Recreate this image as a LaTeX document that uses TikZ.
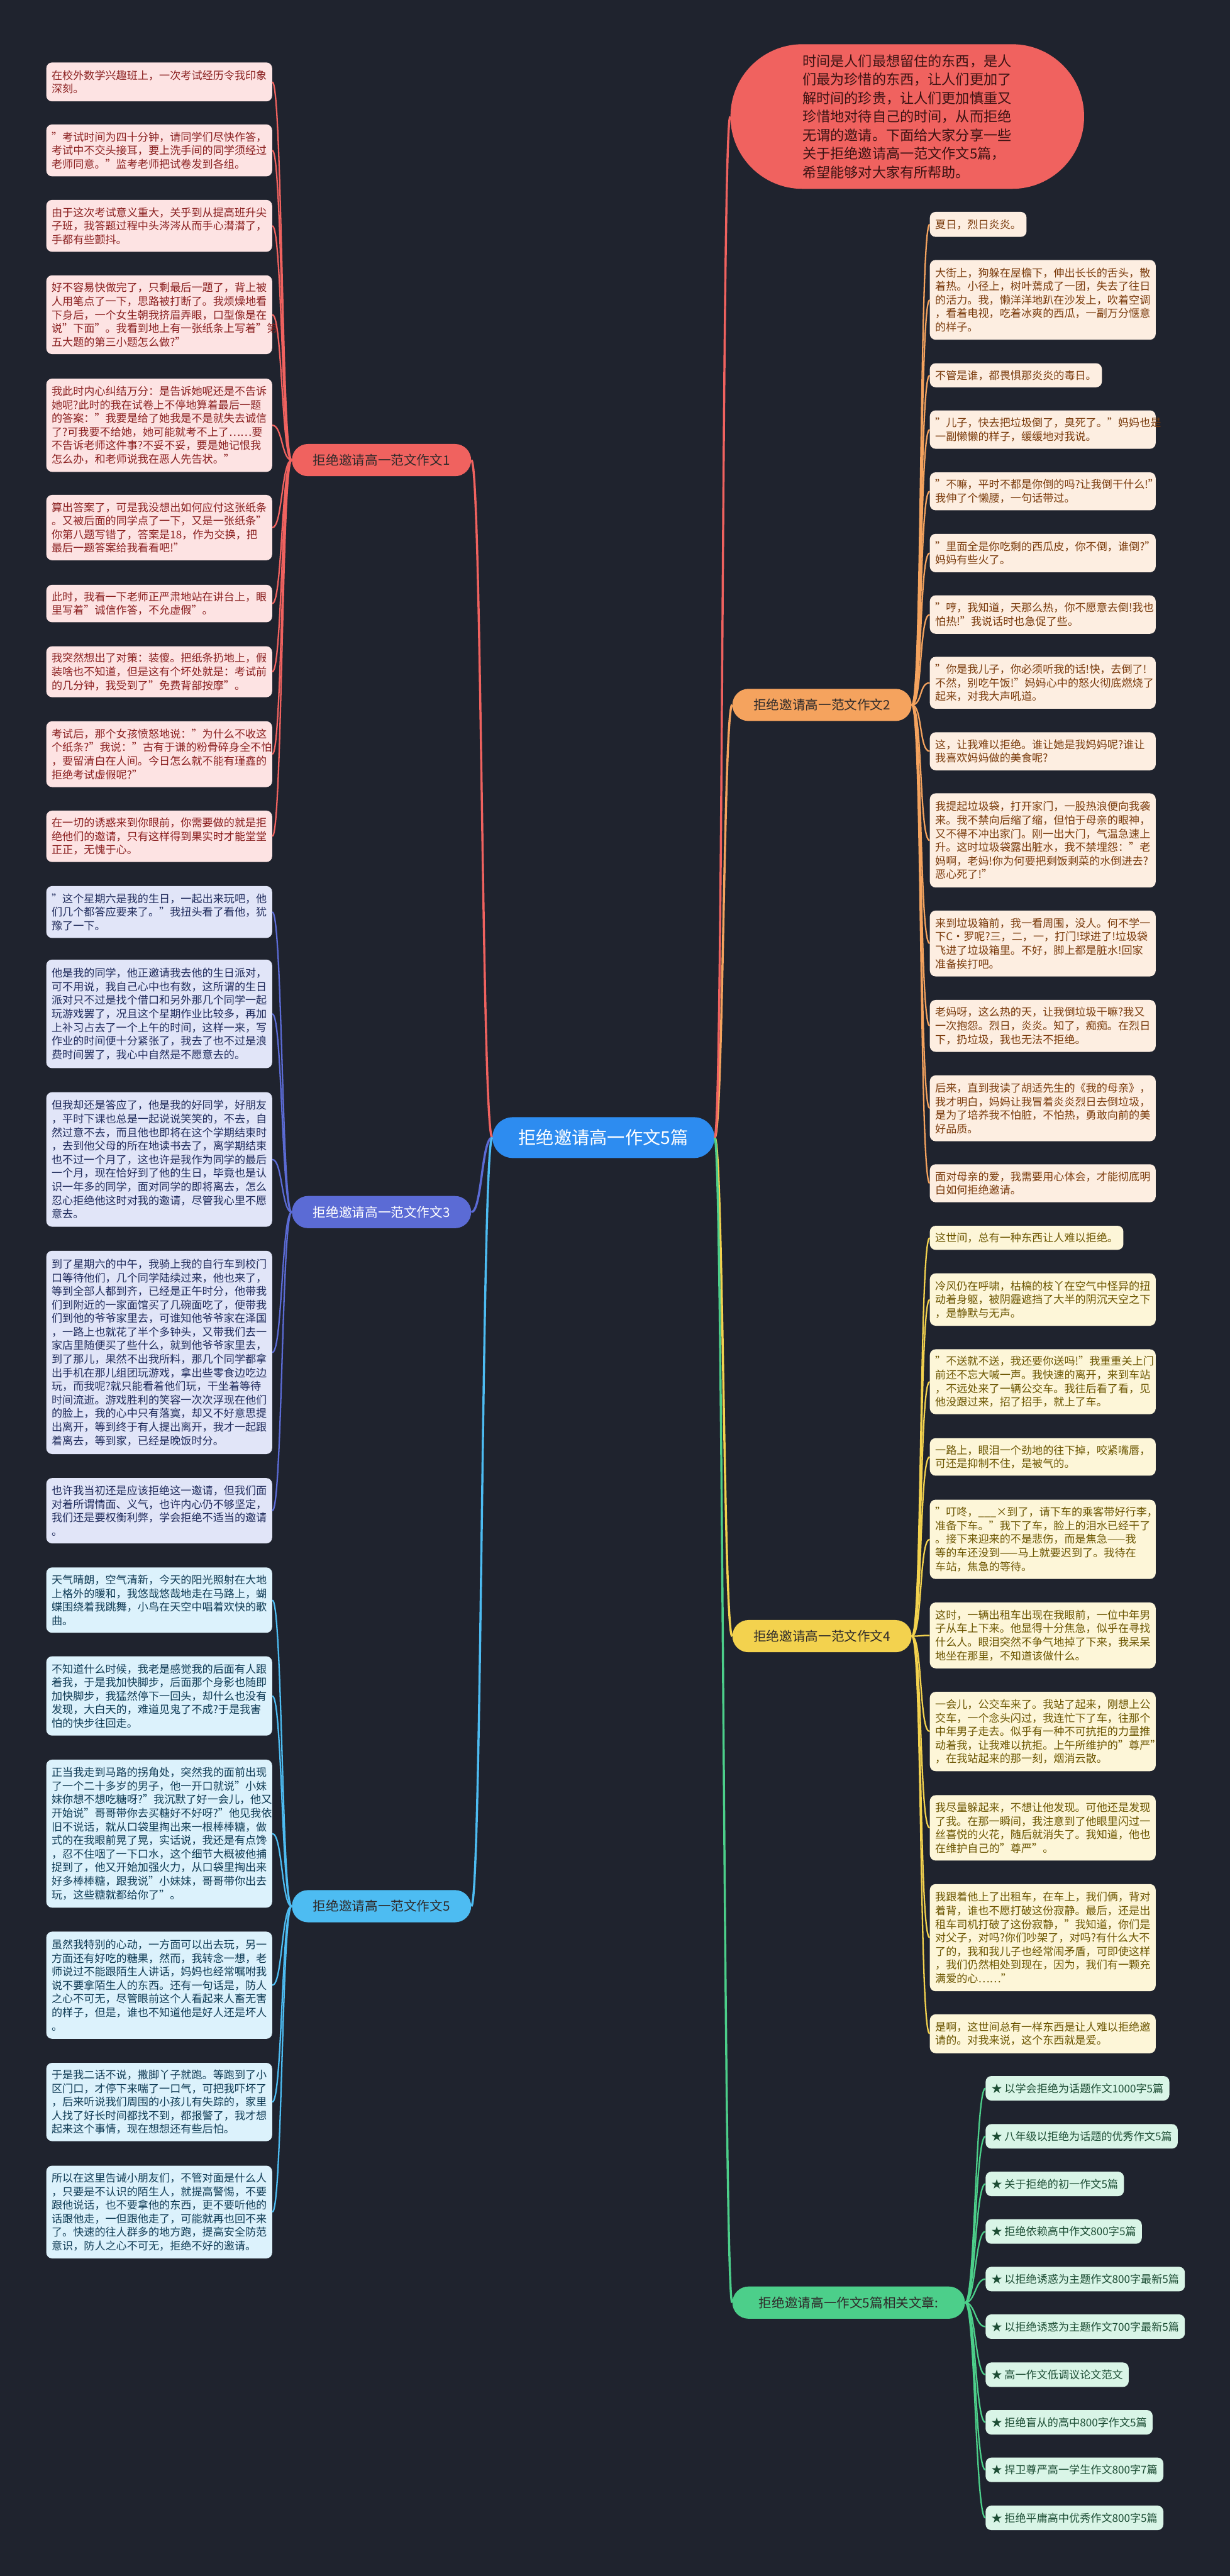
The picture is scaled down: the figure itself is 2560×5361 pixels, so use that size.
\documentclass[tikz,border=0pt]{standalone}
\usepackage{fontspec}
\setmainfont{Noto Sans CJK SC}
\definecolor{bgc}{HTML}{1F232E}
\definecolor{cRed}{HTML}{F0625F}
\definecolor{cRedFill}{HTML}{FDE3E3}
\definecolor{cRedText}{HTML}{8A1F1F}
\definecolor{cPur}{HTML}{5B6BD5}
\definecolor{cPurFill}{HTML}{E1E5F8}
\definecolor{cPurText}{HTML}{1F2B5C}
\definecolor{cCyan}{HTML}{4DBCF2}
\definecolor{cCyanFill}{HTML}{DCF2FC}
\definecolor{cCyanText}{HTML}{0F3B55}
\definecolor{cOra}{HTML}{F5A35E}
\definecolor{cOraFill}{HTML}{FDEEE1}
\definecolor{cOraText}{HTML}{7A3B0C}
\definecolor{cYel}{HTML}{F3D24E}
\definecolor{cYelFill}{HTML}{FDF6D8}
\definecolor{cYelText}{HTML}{6B5500}
\definecolor{cGrn}{HTML}{4CCF8A}
\definecolor{cGrnFill}{HTML}{D9F5E7}
\definecolor{cGrnText}{HTML}{1C4D34}
\definecolor{cCenter}{HTML}{2D8CF0}
\definecolor{bubText}{HTML}{3B1212}
\definecolor{brDark}{HTML}{2E2A2A}
\newcommand\mybox[6]{\node[#2,minimum height={(#5-#4)*0.5pt}] (#1) at (#3,{(#4+#5)/2}) {#6};}
\begin{document}
\begin{tikzpicture}[x=0.5pt,y=-0.5pt,
  box/.style={anchor=west,rounded corners=6pt,inner xsep=5.5pt,inner ysep=0pt,text width=224pt,align=left,font=\fontsize{11.2pt}{14.125pt}\selectfont},
  rb/.style={box,fill=cRedFill,text=cRedText},
  pb/.style={box,fill=cPurFill,text=cPurText},
  cb/.style={box,fill=cCyanFill,text=cCyanText},
  ob/.style={box,fill=cOraFill,text=cOraText},
  yb/.style={box,fill=cYelFill,text=cYelText},
  gb/.style={anchor=west,rounded corners=6pt,inner xsep=6pt,inner ysep=0pt,minimum height=25.5pt,fill=cGrnFill,text=cGrnText,font=\fontsize{11.2pt}{14pt}\selectfont},
  br/.style={rounded corners=16.75pt,minimum width=186.5pt,minimum height=33.5pt,inner sep=0pt,font=\fontsize{13.5pt}{16pt}\selectfont},
  lk/.style={line width=1.5pt},
  lm/.style={line width=2.25pt}]
\useasboundingbox (0,0) rectangle (2560,5361);
\fill[bgc] (0,0) rectangle (2560,5361);

% center and intro bubble
\node[fill=cCenter,text=white,rounded corners=21.25pt,minimum width=231pt,minimum height=42.5pt,inner sep=0pt,font=\fontsize{18.5pt}{22pt}\selectfont] (c) at (1256,2367.5) {拒绝邀请高一作文5篇};
\node[fill=cRed,text=bubText,anchor=west,rounded corners=75pt,minimum height=150.5pt,text width=218pt,align=left,inner xsep=75pt,inner ysep=0pt,font=\fontsize{14.5pt}{19.3pt}\selectfont] (bub) at (1520,242.5) {时间是人们最想留住的东西，是人\\们最为珍惜的东西，让人们更加了\\解时间的珍贵，让人们更加慎重又\\珍惜地对待自己的时间，从而拒绝\\无谓的邀请。下面给大家分享一些\\关于拒绝邀请高一范文作文5篇，\\希望能够对大家有所帮助。};

% branch nodes
\node[br,fill=cRed,text=brDark,anchor=east] (b1) at (981,957.5) {拒绝邀请高一范文作文1};
\node[br,fill=cPur,text=white,anchor=east] (b3) at (981,2522.5) {拒绝邀请高一范文作文3};
\node[br,fill=cCyan,text=brDark,anchor=east] (b5) at (981,3967) {拒绝邀请高一范文作文5};
\node[br,fill=cOra,text=brDark,anchor=west] (b2) at (1524,1467) {拒绝邀请高一范文作文2};
\node[br,fill=cYel,text=brDark,anchor=west] (b4) at (1524,3405) {拒绝邀请高一范文作文4};
\node[br,fill=cGrn,text=brDark,anchor=west,minimum width=242pt] (bg) at (1524,4792) {拒绝邀请高一作文5篇相关文章:};

% branch 1
\mybox{a1}{rb}{96}{130}{211}{在校外数学兴趣班上，一次考试经历令我印象\\深刻。}
\mybox{a2}{rb}{96}{259}{367}{"考试时间为四十分钟，请同学们尽快作答，\\考试中不交头接耳，要上洗手间的同学须经过\\老师同意。"监考老师把试卷发到各组。}
\mybox{a3}{rb}{96}{416}{524}{由于这次考试意义重大，关乎到从提高班升尖\\子班，我答题过程中头涔涔从而手心潸潸了，\\手都有些颤抖。}
\mybox{a4}{rb}{96}{573}{737}{好不容易快做完了，只剩最后一题了，背上被\\人用笔点了一下，思路被打断了。我烦燥地看\\下身后，一个女生朝我挤眉弄眼，口型像是在\\说"下面"。我看到地上有一张纸条上写着"第\\五大题的第三小题怎么做?"}
\mybox{a5}{rb}{96}{788}{982}{我此时内心纠结万分：是告诉她呢还是不告诉\\她呢?此时的我在试卷上不停地算着最后一题\\的答案："我要是给了她我是不是就失去诚信\\了?可我要不给她，她可能就考不上了……要\\不告诉老师这件事?不妥不妥，要是她记恨我\\怎么办，和老师说我在恶人先告状。"}
\mybox{a6}{rb}{96}{1030}{1166}{算出答案了，可是我没想出如何应付这张纸条\\。又被后面的同学点了一下，又是一张纸条"\\你第八题写错了，答案是18，作为交换，把\\最后一题答案给我看看吧!"}
\mybox{a7}{rb}{96}{1217}{1295}{此时，我看一下老师正严肃地站在讲台上，眼\\里写着"诚信作答，不允虚假"。}
\mybox{a8}{rb}{96}{1345}{1451}{我突然想出了对策：装傻。把纸条扔地上，假\\装啥也不知道，但是这有个坏处就是：考试前\\的几分钟，我受到了"免费背部按摩"。}
\mybox{a9}{rb}{96}{1501}{1638}{考试后，那个女孩愤怒地说："为什么不收这\\个纸条?"我说："古有于谦的粉骨碎身全不怕\\，要留清白在人间。今日怎么就不能有瑾鑫的\\拒绝考试虚假呢?"}
\mybox{a10}{rb}{96}{1687}{1794}{在一切的诱惑来到你眼前，你需要做的就是拒\\绝他们的邀请，只有这样得到果实时才能堂堂\\正正，无愧于心。}

% branch 3
\mybox{d1}{pb}{96}{1844}{1952}{"这个星期六是我的生日，一起出来玩吧，他\\们几个都答应要来了。"我扭头看了看他，犹\\豫了一下。}
\mybox{d2}{pb}{96}{1997}{2223}{他是我的同学，他正邀请我去他的生日派对，\\可不用说，我自己心中也有数，这所谓的生日\\派对只不过是找个借口和另外那几个同学一起\\玩游戏罢了，况且这个星期作业比较多，再加\\上补习占去了一个上午的时间，这样一来，写\\作业的时间便十分紧张了，我去了也不过是浪\\费时间罢了，我心中自然是不愿意去的。}
\mybox{d3}{pb}{96}{2273}{2553}{但我却还是答应了，他是我的好同学，好朋友\\，平时下课也总是一起说说笑笑的，不去，自\\然过意不去，而且他也即将在这个学期结束时\\，去到他父母的所在地读书去了，离学期结束\\也不过一个月了，这也许是我作为同学的最后\\一个月，现在恰好到了他的生日，毕竟也是认\\识一年多的同学，面对同学的即将离去，怎么\\忍心拒绝他这时对我的邀请，尽管我心里不愿\\意去。}
\mybox{d4}{pb}{96}{2603}{3026}{到了星期六的中午，我骑上我的自行车到校门\\口等待他们，几个同学陆续过来，他也来了，\\等到全部人都到齐，已经是正午时分，他带我\\们到附近的一家面馆买了几碗面吃了，便带我\\们到他的爷爷家里去，可谁知他爷爷家在泽国\\，一路上也就花了半个多钟头，又带我们去一\\家店里随便买了些什么，就到他爷爷家里去，\\到了那儿，果然不出我所料，那几个同学都拿\\出手机在那儿组团玩游戏，拿出些零食边吃边\\玩，而我呢?就只能看着他们玩，干坐着等待\\时间流逝。游戏胜利的笑容一次次浮现在他们\\的脸上，我的心中只有落寞，却又不好意思提\\出离开，等到终于有人提出离开，我才一起跟\\着离去，等到家，已经是晚饭时分。}
\mybox{d5}{pb}{96}{3076}{3212}{也许我当初还是应该拒绝这一邀请，但我们面\\对着所谓情面、义气，也许内心仍不够坚定，\\我们还是要权衡利弊，学会拒绝不适当的邀请\\。}

% branch 5
\mybox{e1}{cb}{96}{3262}{3398}{天气晴朗，空气清新，今天的阳光照射在大地\\上格外的暖和，我悠哉悠哉地走在马路上，蝴\\蝶围绕着我跳舞，小鸟在天空中唱着欢快的歌\\曲。}
\mybox{e2}{cb}{96}{3447}{3612}{不知道什么时候，我老是感觉我的后面有人跟\\着我，于是我加快脚步，后面那个身影也随即\\加快脚步，我猛然停下一回头，却什么也没有\\发现，大白天的，难道见鬼了不成?于是我害\\怕的快步往回走。}
\mybox{e3}{cb}{96}{3662}{3970}{正当我走到马路的拐角处，突然我的面前出现\\了一个二十多岁的男子，他一开口就说"小妹\\妹你想不想吃糖呀?"我沉默了好一会儿，他又\\开始说"哥哥带你去买糖好不好呀?"他见我依\\旧不说话，就从口袋里掏出来一根棒棒糖，做\\式的在我眼前晃了晃，实话说，我还是有点馋\\，忍不住咽了一下口水，这个细节大概被他捕\\捉到了，他又开始加强火力，从口袋里掏出来\\好多棒棒糖，跟我说"小妹妹，哥哥带你出去\\玩，这些糖就都给你了"。}
\mybox{e4}{cb}{96}{4020}{4243}{虽然我特别的心动，一方面可以出去玩，另一\\方面还有好吃的糖果，然而，我转念一想，老\\师说过不能跟陌生人讲话，妈妈也经常嘱咐我\\说不要拿陌生人的东西。还有一句话是，防人\\之心不可无，尽管眼前这个人看起来人畜无害\\的样子，但是，谁也不知道他是好人还是坏人\\。}
\mybox{e5}{cb}{96}{4293}{4456}{于是我二话不说，撒脚丫子就跑。等跑到了小\\区门口，才停下来喘了一口气，可把我吓坏了\\，后来听说我们周围的小孩儿有失踪的，家里\\人找了好长时间都找不到，都报警了，我才想\\起来这个事情，现在想想还有些后怕。}
\mybox{e6}{cb}{96}{4507}{4700}{所以在这里告诫小朋友们，不管对面是什么人\\，只要是不认识的陌生人，就提高警惕，不要\\跟他说话，也不要拿他的东西，更不要听他的\\话跟他走，一但跟他走了，可能就再也回不来\\了。快速的往人群多的地方跑，提高安全防范\\意识，防人之心不可无，拒绝不好的邀请。}

% branch 2
\mybox{f1}{ob,text width={}}{1935}{441}{493}{夏日，烈日炎炎。}
\mybox{f2}{ob}{1935}{541}{707}{大街上，狗躲在屋檐下，伸出长长的舌头，散\\着热。小径上，树叶蔫成了一团，失去了往日\\的活力。我，懒洋洋地趴在沙发上，吹着空调\\，看着电视，吃着冰爽的西瓜，一副万分惬意\\的样子。}
\mybox{f3}{ob,text width={}}{1935}{756}{806}{不管是谁，都畏惧那炎炎的毒日。}
\mybox{f4}{ob}{1935}{854}{934}{"儿子，快去把垃圾倒了，臭死了。"妈妈也是\\一副懒懒的样子，缓缓地对我说。}
\mybox{f5}{ob}{1935}{983}{1062}{"不嘛，平时不都是你倒的吗?让我倒干什么!"\\我伸了个懒腰，一句话带过。}
\mybox{f6}{ob}{1935}{1111}{1191}{"里面全是你吃剩的西瓜皮，你不倒，谁倒?"\\妈妈有些火了。}
\mybox{f7}{ob}{1935}{1239}{1319}{"哼，我知道，天那么热，你不愿意去倒!我也\\怕热!"我说话时也急促了些。}
\mybox{f8}{ob}{1935}{1367}{1475}{"你是我儿子，你必须听我的话!快，去倒了!\\不然，别吃午饭!"妈妈心中的怒火彻底燃烧了\\起来，对我大声吼道。}
\mybox{f9}{ob}{1935}{1524}{1603}{这，让我难以拒绝。谁让她是我妈妈呢?谁让\\我喜欢妈妈做的美食呢?}
\mybox{f10}{ob}{1935}{1651}{1847}{我提起垃圾袋，打开家门，一股热浪便向我袭\\来。我不禁向后缩了缩，但怕于母亲的眼神，\\又不得不冲出家门。刚一出大门，气温急速上\\升。这时垃圾袋露出脏水，我不禁埋怨："老\\妈啊，老妈!你为何要把剩饭剩菜的水倒进去?\\恶心死了!"}
\mybox{f11}{ob}{1935}{1895}{2032}{来到垃圾箱前，我一看周围，没人。何不学一\\下C·罗呢?三，二，一，打门!球进了!垃圾袋\\飞进了垃圾箱里。不好，脚上都是脏水!回家\\准备挨打吧。}
\mybox{f12}{ob}{1935}{2081}{2189}{老妈呀，这么热的天，让我倒垃圾干嘛?我又\\一次抱怨。烈日，炎炎。知了，痴痴。在烈日\\下，扔垃圾，我也无法不拒绝。}
\mybox{f13}{ob}{1935}{2238}{2375}{后来，直到我读了胡适先生的《我的母亲》，\\我才明白，妈妈让我冒着炎炎烈日去倒垃圾，\\是为了培养我不怕脏，不怕热，勇敢向前的美\\好品质。}
\mybox{f14}{ob}{1935}{2423}{2502}{面对母亲的爱，我需要用心体会，才能彻底明\\白如何拒绝邀请。}

% branch 4
\mybox{g1}{yb,text width={}}{1935}{2551}{2601}{这世间，总有一种东西让人难以拒绝。}
\mybox{g2}{yb}{1935}{2650}{2759}{冷风仍在呼啸，枯槁的枝丫在空气中怪异的扭\\动着身躯，被阴霾遮挡了大半的阴沉天空之下\\，是静默与无声。}
\mybox{g3}{yb}{1935}{2808}{2943}{"不送就不送，我还要你送吗!"我重重关上门\\前还不忘大喊一声。我快速的离开，来到车站\\，不远处来了一辆公交车。我往后看了看，见\\他没跟过来，招了招手，就上了车。}
\mybox{g4}{yb}{1935}{2993}{3071}{一路上，眼泪一个劲地的往下掉，咬紧嘴唇，\\可还是抑制不住，是被气的。}
\mybox{g5}{yb}{1935}{3121}{3286}{"叮咚，\_\_\_×到了，请下车的乘客带好行李，\\准备下车。"我下了车，脸上的泪水已经干了\\。接下来迎来的不是悲伤，而是焦急——我\\等的车还没到——马上就要迟到了。我待在\\车站，焦急的等待。}
\mybox{g6}{yb}{1935}{3335}{3472}{这时，一辆出租车出现在我眼前，一位中年男\\子从车上下来。他显得十分焦急，似乎在寻找\\什么人。眼泪突然不争气地掉了下来，我呆呆\\地坐在那里，不知道该做什么。}
\mybox{g7}{yb}{1935}{3521}{3686}{一会儿，公交车来了。我站了起来，刚想上公\\交车，一个念头闪过，我连忙下了车，往那个\\中年男子走去。似乎有一种不可抗拒的力量推\\动着我，让我难以抗拒。上午所维护的"尊严"\\，在我站起来的那一刻，烟消云散。}
\mybox{g8}{yb}{1935}{3736}{3872}{我尽量躲起来，不想让他发现。可他还是发现\\了我。在那一瞬间，我注意到了他眼里闪过一\\丝喜悦的火花，随后就消失了。我知道，他也\\在维护自己的"尊严"。}
\mybox{g9}{yb}{1935}{3921}{4144}{我跟着他上了出租车，在车上，我们俩，背对\\着背，谁也不愿打破这份寂静。最后，还是出\\租车司机打破了这份寂静，"我知道，你们是\\对父子，对吗?你们吵架了，对吗?有什么大不\\了的，我和我儿子也经常闹矛盾，可即使这样\\，我们仍然相处到现在，因为，我们有一颗充\\满爱的心……"}
\mybox{g10}{yb}{1935}{4192}{4273}{是啊，这世间总有一样东西是让人难以拒绝邀\\请的。对我来说，这个东西就是爱。}

% related articles
\node[gb] (h1) at (2051,4346) {★ 以学会拒绝为话题作文1000字5篇};
\node[gb] (h2) at (2051,4446) {★ 八年级以拒绝为话题的优秀作文5篇};
\node[gb] (h3) at (2051,4545) {★ 关于拒绝的初一作文5篇};
\node[gb] (h4) at (2051,4644) {★ 拒绝依赖高中作文800字5篇};
\node[gb] (h5) at (2051,4743) {★ 以拒绝诱惑为主题作文800字最新5篇};
\node[gb] (h6) at (2051,4842) {★ 以拒绝诱惑为主题作文700字最新5篇};
\node[gb] (h7) at (2051,4942) {★ 高一作文低调议论文范文};
\node[gb] (h8) at (2051,5041) {★ 拒绝盲从的高中800字作文5篇};
\node[gb] (h9) at (2051,5140) {★ 捍卫尊严高一学生作文800字7篇};
\node[gb] (h10) at (2051,5240) {★ 拒绝平庸高中优秀作文800字5篇};

% connectors from center
\draw[lm,cRed] (c.west) .. controls +(-22,0) and +(22,0) .. (b1.east);
\draw[lm,cPur] (c.west) .. controls +(-22,0) and +(22,0) .. (b3.east);
\draw[lm,cCyan] (c.west) .. controls +(-22,0) and +(22,0) .. (b5.east);
\draw[lm,cOra] (c.east) .. controls +(18,0) and +(-18,0) .. (b2.west);
\draw[lm,cYel] (c.east) .. controls +(18,0) and +(-18,0) .. (b4.west);
\draw[lm,cGrn] (c.east) .. controls +(18,0) and +(-18,0) .. (bg.west);
\draw[lm,cRed] (c.east) .. controls +(18,0) and +(-18,0) .. (bub.west);

% connectors to leaves
\foreach \i in {1,...,10} {\draw[lk,cRed] (b1.west) .. controls +(-21,0) and +(21,0) .. (a\i.east);}
\foreach \i in {1,...,5} {\draw[lk,cPur] (b3.west) .. controls +(-21,0) and +(21,0) .. (d\i.east);}
\foreach \i in {1,...,6} {\draw[lk,cCyan] (b5.west) .. controls +(-21,0) and +(21,0) .. (e\i.east);}
\foreach \i in {1,...,14} {\draw[lk,cOra] (b2.east) .. controls +(22,0) and +(-22,0) .. (f\i.west);}
\foreach \i in {1,...,10} {\draw[lk,cYel] (b4.east) .. controls +(22,0) and +(-22,0) .. (g\i.west);}
\foreach \i in {1,...,10} {\draw[lk,cGrn] (bg.east) .. controls +(21,0) and +(-21,0) .. (h\i.west);}
\end{tikzpicture}
\end{document}
